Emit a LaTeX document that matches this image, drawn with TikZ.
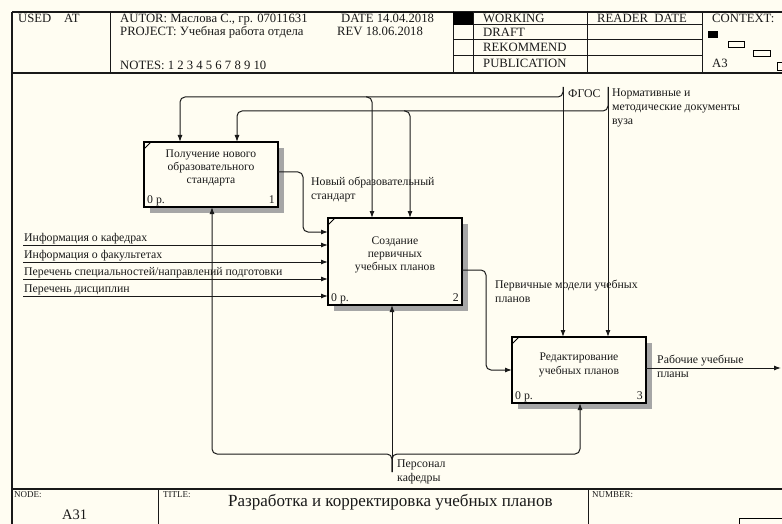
\documentclass[tikz,border=0pt]{standalone}
\usepackage{fontspec}
\setmainfont{Liberation Serif}
\usetikzlibrary{arrows.meta,calc,shadows}
\definecolor{paper}{RGB}{255,253,242}
\definecolor{ink}{RGB}{25,25,25}

\begin{document}
\begin{tikzpicture}[x=1pt,y=-1pt,
  rule/.style={line width=1.3pt, draw=ink},
  thin/.style={line width=1pt, draw=ink},
  hdr/.style={font=\fontsize{12.7}{15}\selectfont, inner sep=0pt, anchor=base west, text=ink},
  tiny/.style={font=\fontsize{9}{10}\selectfont, inner sep=0pt, anchor=base west, text=ink},
  lbl/.style={font=\fontsize{11.8}{13.5}\selectfont, inner sep=0pt, align=left, text=ink},
  btxt/.style={font=\fontsize{11.6}{13.3}\selectfont, inner sep=0pt, align=center, text=ink},
  func/.style={draw=black, line width=2pt, fill=paper, minimum width=134pt,
    inner sep=0pt, outer sep=0pt,
    drop shadow={shadow xshift=6pt, shadow yshift=-6pt, fill=black!35, opacity=1}},
  arr/.style={draw=ink, line width=1pt, rounded corners=5pt,
    -{Latex[length=7pt,width=5pt]}},
]
\useasboundingbox (0,0) rectangle (782,524);
\clip (0,0) rectangle (782,524);
\fill[paper] (0,0) rectangle (782,524);

% ---- outer frame ----
\draw[rule] (12,12) -- (790,12);
\draw[rule] (12,12) -- (12,530);
\draw[rule] (12,73) -- (790,73);
\draw[rule] (12,489) -- (790,489);

% ---- header cells ----
\foreach \x in {110,453,473,587,702} \draw[thin] (\x,12) -- (\x,73);
\foreach \y in {25,40,56} \draw[thin] (453,\y) -- (702,\y);
\fill[black] (453,12) rectangle (473,25);

\node[hdr] (used) at (18,23) {USED};
\node[hdr] (at) at (64,23) {AT};
\node[hdr] (autor) at (120,23) {AUTOR: Маслова С., гр. 07011631};
\node[hdr] (proj) at (120,36) {PROJECT: Учебная работа отдела};
\node[hdr] (notes) at (120,69.5) {NOTES: 1 2 3 4 5 6 7 8 9 10};
\node[hdr] (date) at (341,23) {DATE 14.04.2018};
\node[hdr] (rev) at (337,36) {REV 18.06.2018};
\node[hdr] (work) at (483,23) {WORKING};
\node[hdr] (draft) at (483,37) {DRAFT};
\node[hdr] (rek) at (483,52) {REKOMMEND};
\node[hdr] (pub) at (483,68) {PUBLICATION};
\node[hdr] (reader) at (597,23) {READER\ \ DATE};
\node[hdr] (ctx) at (712,23) {CONTEXT:};
\node[hdr] (a3) at (712,68) {A3};

% context thumbnail
\fill[black] (708,31) rectangle (718,38);
\draw[line width=0.8pt] (728,41) rectangle (744,47);
\draw[line width=0.8pt] (753,50) rectangle (770,56);
\draw[line width=0.8pt] (777,62) rectangle (792,70);

% ---- footer ----
\draw[thin] (158,489) -- (158,530);
\draw[thin] (588,489) -- (588,530);
\node[tiny] (node) at (14,497) {NODE:};
\node[tiny] (title) at (163,497) {TITLE:};
\node[tiny] (number) at (592,497) {NUMBER:};
\node[hdr, font=\fontsize{14.5}{16}\selectfont] (a31) at (62,519) {A31};
\node[hdr, font=\fontsize{17}{19}\selectfont] (ttl) at (228,506) {Разработка и корректировка учебных планов};
\draw[line width=0.8pt] (739,518) rectangle (800,540);

% ---- function boxes ----
\node[func, minimum height=65pt] (b1) at (211,174.5) {};
\node[func, minimum height=87pt] (b2) at (395,261.5) {};
\node[func, minimum height=66pt] (b3) at (579,370) {};

\node[btxt] (b1t) at ([yshift=6.5pt]b1.center) {Получение нового\\образовательного\\стандарта};
\node[btxt] (b2t) at ([yshift=6.5pt]b2.center) {Создание\\первичных\\учебных планов};
\node[btxt] (b3t) at ([yshift=5pt]b3.center) {Редактирование\\учебных планов};

\foreach \b/\n in {b1/1,b2/2,b3/3}{
  \draw[line width=1pt] ($(\b.north west)+(0,7)$) -- ($(\b.north west)+(7,0)$);
  \node[lbl, anchor=base west] at ($(\b.south west)+(3,-4)$) {0 р.};
  \node[lbl, anchor=base east] at ($(\b.south east)+(-3,-4)$) {\n};
}

% ---- inputs ----
\coordinate (i1) at (23,245);
\coordinate (i2) at (23,262);
\coordinate (i3) at (23,279);
\coordinate (i4) at (23,296);
\foreach \c in {i1,i2,i3,i4} \draw[arr] (\c) -- (\c -| b2.west);
\node[lbl, anchor=base west] (li1) at (24,241.5) {Информация о кафедрах};
\node[lbl, anchor=base west] (li2) at (24,258.5) {Информация о факультетах};
\node[lbl, anchor=base west] (li3) at (24,275.5) {Перечень специальностей/направлений подготовки};
\node[lbl, anchor=base west] (li4) at (24,292.5) {Перечень дисциплин};

% ---- outputs ----
\draw[arr] ([yshift=2.5pt]b1.east) -- (303,172) -- (303,232) -- (303,232 -| b2.west);
\node[lbl, anchor=north west] (lo1) at (311,177) {Новый образовательный\\стандарт};

\draw[arr] ([yshift=-8.5pt]b2.east) -- (486,270) -- (486,370) -- (b3.west);
\node[lbl, anchor=north west] (lo2) at (495,280) {Первичные модели учебных\\планов};

\coordinate (o3) at (781,368);
\draw[arr] ([yshift=2pt]b3.east) -- (o3);
\node[lbl, anchor=north west, font=\fontsize{11.8}{14}\selectfont] (lo3) at (657,355) {Рабочие учебные\\планы};

% ---- controls ----
\coordinate (fgos) at (563,87);
\coordinate (norm) at (608,87);
\coordinate (f2) at (366,97);
\coordinate (n2) at (404,111);
\draw[arr] (fgos) -- (fgos |- b3.north);
\draw[arr] (norm) -- (norm |- b3.north);
\draw[arr] (fgos) -- (563,97) -- (180,97) -- (180,97 |- b1.north);
\draw[arr] (f2) -- (372,97) -- (372,97 |- b2.north);
\draw[arr] (norm) -- (608,111) -- (237,111) -- (237,111 |- b1.north);
\draw[arr] (n2) -- (410,111) -- (410,111 |- b2.north);
\node[lbl, anchor=base west] (lc1) at (568,98) {ФГОС};
\node[lbl, anchor=north west, font=\fontsize{11.8}{14}\selectfont] (lc2) at (612,89) {Нормативные и\\методические документы\\вуза};

% ---- mechanism ----
\coordinate (pers) at (392,472);
\draw[arr] (pers) -- (pers |- b2.south);
\draw[arr] (pers) -- (392,454) -- (212,454) -- (212,454 |- b1.south);
\draw[arr] (pers) -- (392,454) -- (580,454) -- (580,454 |- b3.south);
\node[lbl, anchor=north west] (lm) at (397,460) {Персонал\\кафедры};
\end{tikzpicture}
\end{document}
